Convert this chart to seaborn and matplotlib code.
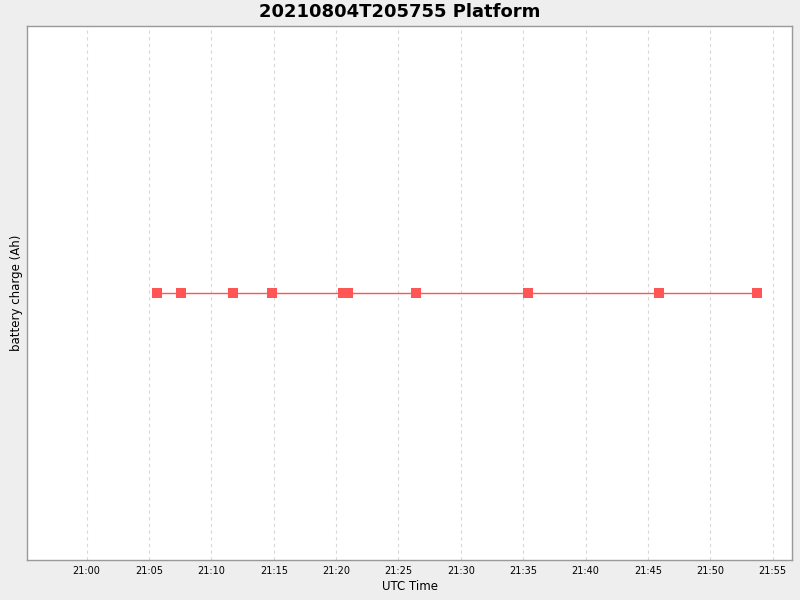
import matplotlib
matplotlib.use("Agg")
import matplotlib.pyplot as plt
import matplotlib.dates as mdates
import seaborn as sns
import pandas as pd

# sample times (UTC, 2021-08-04) and battery charge values
times = ["21:05:38", "21:07:33", "21:11:43", "21:14:51", "21:20:35",
         "21:20:59", "21:26:26", "21:35:23", "21:45:55", "21:53:44"]
charge = [50.0, 50.0, 50.0, 50.0, 50.0, 50.0, 50.0, 50.0, 50.0, 50.0]

df = pd.DataFrame({
    "time": pd.to_datetime(["2021-08-04 " + t for t in times]),
    "charge": charge,
})

sns.set_style("white")
plt.rcParams["font.family"] = ["DejaVu Sans"]
plt.rcParams["text.color"] = "black"
plt.rcParams["axes.labelcolor"] = "black"
plt.rcParams["xtick.color"] = "black"

fig = plt.figure(figsize=(8, 6), dpi=100, facecolor="#eeeeee")
ax = fig.add_axes([27 / 800, 40 / 600, 765 / 800, 534 / 600])
ax.set_facecolor("white")

red = "#ff5555"
sns.lineplot(data=df, x="time", y="charge", ax=ax, color=red, linewidth=1,
             marker="s", markersize=7, markeredgewidth=0, markerfacecolor=red)

ax.set_xlim(pd.Timestamp("2021-08-04 20:55:13"), pd.Timestamp("2021-08-04 21:56:33"))
ax.set_ylim(49, 51)
ax.xaxis.set_major_locator(mdates.MinuteLocator(byminute=range(0, 60, 5)))
ax.xaxis.set_major_formatter(mdates.DateFormatter("%H:%M"))
ax.set_yticks([])
ax.tick_params(axis="x", length=0, pad=4, labelsize=7)
ax.grid(axis="x", color="#d8d8d8", linestyle=(0, (3, 3)), linewidth=0.8)

for sp in ax.spines.values():
    sp.set_color("#999999")
    sp.set_linewidth(1)

ax.set_xlabel("UTC Time", fontsize=8.5, labelpad=3)
ax.set_ylabel("battery charge (Ah)", fontsize=8.5, labelpad=3)
fig.text(0.5, 1 - 12 / 600, "20210804T205755 Platform", fontsize=13,
         fontweight="bold", ha="center", va="center")

fig.savefig("out.png", dpi=100, facecolor=fig.get_facecolor())
